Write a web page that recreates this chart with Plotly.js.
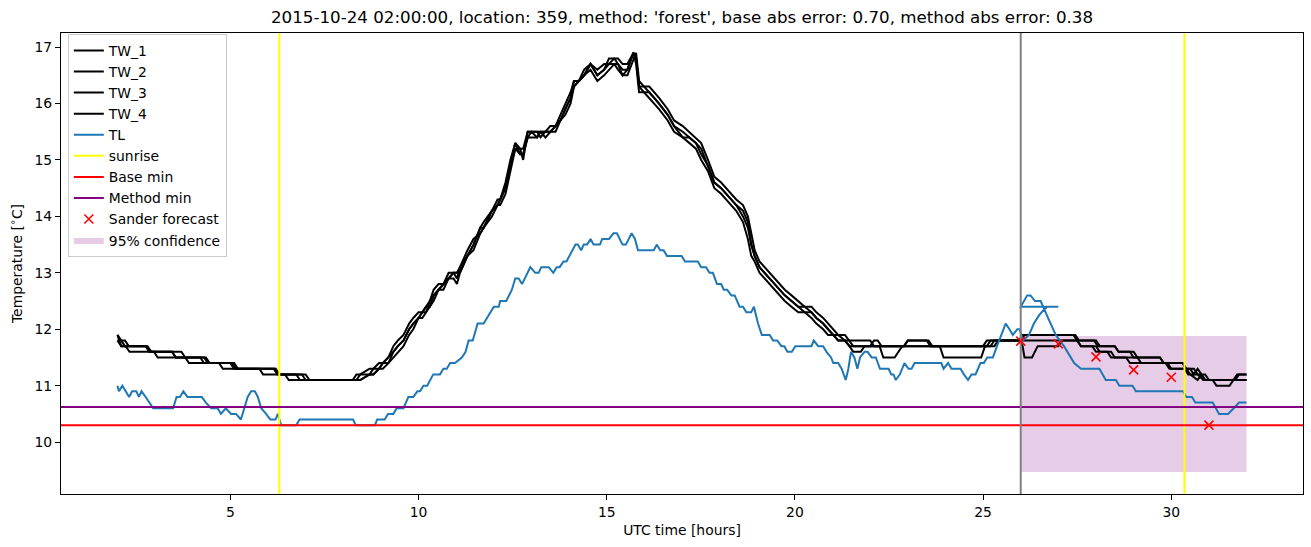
<!DOCTYPE html>
<html><head><meta charset="utf-8">
<script src="https://cdn.plot.ly/plotly-3.0.1.min.js"></script>
<style>html,body{margin:0;padding:0;background:#fff}</style>
</head><body><div id="chart" style="width:1311px;height:547px"></div>
<script>
// ---------------- data ----------------
const TITLE = "2015-10-24 02:00:00, location: 359, method: 'forest', base abs error: 0.70, method abs error: 0.38";
const X_RANGE = [0.5, 33.5];
const Y_RANGE = [9.08, 17.25];
const X_TICKS = [5, 10, 15, 20, 25, 30];
const Y_TICKS = [10, 11, 12, 13, 14, 15, 16, 17];

const TL_time = [
 2.0, 2.04, 2.13, 2.22, 2.31, 2.39, 2.5, 2.57, 2.64, 2.75,
 2.85, 2.95, 3.48, 3.57, 3.66, 3.75, 3.86, 4.24, 4.35, 4.49,
 4.66, 4.75, 4.88, 5.02, 5.15, 5.28, 5.37, 5.46, 5.55, 5.65,
 5.73, 5.82, 5.95, 6.06, 6.2, 6.26, 6.35, 6.75, 6.84, 8.26,
 8.33, 8.84, 8.9, 9.1, 9.19, 9.33, 9.42, 9.6, 9.73, 9.86,
 9.97, 10.04, 10.13, 10.23, 10.39, 10.57, 10.66, 10.75, 10.84, 10.97,
 11.15, 11.25, 11.33, 11.44, 11.57, 11.73, 12.0, 12.13, 12.17, 12.33,
 12.48, 12.57, 12.66, 12.75, 12.97, 13.1, 13.19, 13.26, 13.46, 13.58,
 13.67, 13.75, 13.85, 13.93, 14.17, 14.23, 14.32, 14.39, 14.48, 14.57,
 14.65, 14.82, 14.88, 15.06, 15.18, 15.27, 15.42, 15.51, 15.66, 15.75,
 15.83, 16.25, 16.33, 16.42, 16.51, 16.6, 16.99, 17.08, 17.42, 17.51,
 17.64, 17.73, 17.82, 17.93, 18.04, 18.11, 18.2, 18.31, 18.4, 18.53,
 18.62, 18.71, 18.84, 18.91, 19.02, 19.12, 19.33, 19.42, 19.53, 19.64,
 19.72, 19.8, 19.92, 20.01, 20.44, 20.5, 20.62, 20.75, 20.84, 20.96,
 21.02, 21.15, 21.24, 21.35, 21.42, 21.49, 21.58, 21.66, 21.73, 21.85,
 21.93, 22.04, 22.15, 22.26, 22.49, 22.56, 22.62, 22.68, 22.79, 22.91,
 23.02, 23.1, 23.18, 23.89, 23.95, 24.07, 24.16, 24.4, 24.49, 24.6,
 24.69, 24.8, 24.93, 25.02, 25.11, 25.26, 25.37, 25.49, 25.6, 25.7,
 25.79, 25.91, 25.97, 26.06, 26.22, 26.35, 26.49, 26.62, 26.71, 27.0,
 26.0, 26.17, 26.26, 26.38, 26.53, 26.66, 26.79, 26.93, 27.15, 27.42,
 27.6, 28.09, 28.26, 28.53, 28.62, 28.97, 29.06, 30.31, 30.4, 30.55,
 30.64, 31.1, 31.27, 31.51, 31.66, 31.8, 32.0
];
const TL_values = [
 11.0, 10.9, 11.0, 10.9, 10.8, 10.9, 10.9, 10.8, 10.9, 10.8,
 10.7, 10.6, 10.6, 10.8, 10.8, 10.9, 10.8, 10.8, 10.7, 10.6,
 10.6, 10.5, 10.6, 10.5, 10.5, 10.4, 10.6, 10.8, 10.9, 10.9,
 10.8, 10.6, 10.5, 10.4, 10.4, 10.5, 10.3, 10.3, 10.4, 10.4,
 10.3, 10.3, 10.4, 10.4, 10.5, 10.5, 10.6, 10.6, 10.8, 10.8,
 10.9, 10.9, 11.0, 11.0, 11.2, 11.2, 11.3, 11.3, 11.4, 11.4,
 11.5, 11.6, 11.8, 11.8, 12.1, 12.1, 12.4, 12.4, 12.5, 12.5,
 12.7, 12.9, 12.9, 12.8, 13.1, 13.0, 13.0, 13.1, 13.1, 13.0,
 13.1, 13.1, 13.2, 13.2, 13.5, 13.5, 13.4, 13.5, 13.5, 13.6,
 13.5, 13.5, 13.6, 13.6, 13.7, 13.7, 13.5, 13.5, 13.7, 13.6,
 13.4, 13.4, 13.5, 13.4, 13.4, 13.3, 13.3, 13.2, 13.2, 13.1,
 13.1, 13.0, 13.0, 12.8, 12.8, 12.7, 12.7, 12.6, 12.6, 12.4,
 12.4, 12.3, 12.3, 12.4, 12.1, 11.9, 11.9, 11.8, 11.8, 11.7,
 11.7, 11.6, 11.6, 11.7, 11.7, 11.8, 11.7, 11.7, 11.6, 11.5,
 11.4, 11.4, 11.3, 11.1, 11.3, 11.6, 11.5, 11.3, 11.5, 11.6,
 11.6, 11.5, 11.5, 11.3, 11.3, 11.2, 11.2, 11.1, 11.2, 11.4,
 11.3, 11.3, 11.4, 11.4, 11.3, 11.4, 11.3, 11.3, 11.2, 11.1,
 11.2, 11.2, 11.4, 11.4, 11.5, 11.5, 11.7, 11.9, 12.1, 12.0,
 11.9, 12.0, 12.0, 11.8, 11.9, 12.1, 12.25, 12.35, 12.4, 12.4,
 12.4, 12.6, 12.6, 12.5, 12.5, 12.3, 12.1, 11.9, 11.7, 11.4,
 11.3, 11.3, 11.1, 11.1, 11.0, 11.0, 10.9, 10.9, 10.8, 10.8,
 10.7, 10.7, 10.5, 10.5, 10.6, 10.7, 10.7
];

// TW series: early flat part, shared-time middle part, late flat part
const TW1_time_early = [2.0, 2.1, 2.2, 2.8, 2.9, 3.45, 3.55, 4.3, 4.4, 5.05, 5.15, 6.15, 6.25, 6.75, 6.85, 8.25];
const TW1_val_early  = [11.9, 11.8, 11.7, 11.7, 11.6, 11.6, 11.5, 11.5, 11.4, 11.4, 11.3, 11.3, 11.2, 11.2, 11.1, 11.1];
const TW2_time_early = [2.0, 2.1, 2.22, 2.32, 2.9, 2.97, 3.07, 3.8, 3.9, 4.7, 4.8, 5.77, 5.87, 6.45, 6.55, 8.25];
const TW2_val_early  = [11.9, 11.7, 11.7, 11.6, 11.6, 11.6, 11.5, 11.5, 11.4, 11.4, 11.3, 11.3, 11.2, 11.2, 11.1, 11.1];
const TW3_time_early = [2.0, 2.1, 2.75, 2.85, 3.45, 3.55, 4.2, 4.3, 5.0, 5.1, 6.2, 6.3, 6.9, 7.0, 8.25];
const TW3_val_early  = [11.8, 11.7, 11.7, 11.6, 11.6, 11.5, 11.5, 11.4, 11.4, 11.3, 11.3, 11.2, 11.2, 11.1, 11.1];
const TW4_time_early = [2.0, 2.2, 2.3, 2.75, 2.85, 3.7, 3.8, 4.35, 4.45, 5.1, 5.2, 6.2, 6.3, 7.0, 7.1, 8.25];
const TW4_val_early  = [11.8, 11.8, 11.7, 11.7, 11.6, 11.6, 11.5, 11.5, 11.4, 11.4, 11.3, 11.3, 11.2, 11.2, 11.1, 11.1];

const TW_time_mid = [
 8.35, 8.45, 8.7, 8.8, 8.95, 9.05, 9.2, 9.33, 9.45, 9.6,
 9.75, 9.86, 10.0, 10.1, 10.2, 10.3, 10.4, 10.53, 10.66, 10.8,
 10.93, 11.02, 11.1, 11.3, 11.46, 11.64, 11.73, 11.95, 12.1, 12.17,
 12.31, 12.44, 12.57, 12.7, 12.78, 12.9, 13.0, 13.15, 13.24, 13.37,
 13.5, 13.64, 13.77, 13.9, 14.04, 14.13, 14.26, 14.4, 14.57, 14.75,
 14.93, 15.06, 15.2, 15.3, 15.42, 15.55, 15.71, 15.78, 15.86, 15.99,
 16.13, 16.26, 16.39, 16.62, 16.79, 17.02, 17.19, 17.37, 17.51, 17.69,
 17.86, 18.04, 18.17, 18.31, 18.44, 18.62, 18.75, 18.84, 18.93, 19.06,
 19.19, 19.33, 19.46, 19.6, 19.73, 19.91, 20.09, 20.26, 20.44, 20.57,
 20.75, 20.88, 21.02, 21.15, 21.33
];
const TW1_val_mid = [
 11.1, 11.2, 11.2, 11.3, 11.3, 11.4, 11.5, 11.6, 11.7, 11.8,
 12.0, 12.1, 12.2, 12.3, 12.3, 12.5, 12.6, 12.7, 12.8, 13.0,
 13.0, 12.9, 13.1, 13.3, 13.5, 13.8, 13.9, 14.1, 14.2, 14.3,
 14.5, 14.9, 15.3, 15.1, 15.1, 15.4, 15.5, 15.4, 15.5, 15.5,
 15.5, 15.6, 15.7, 15.9, 16.1, 16.3, 16.4, 16.5, 16.7, 16.5,
 16.6, 16.7, 16.7, 16.7, 16.5, 16.6, 16.9, 16.8, 16.3, 16.3,
 16.2, 16.1, 16.0, 15.8, 15.6, 15.5, 15.4, 15.3, 15.2, 14.9,
 14.6, 14.5, 14.4, 14.3, 14.2, 14.1, 13.9, 13.5, 13.3, 13.1,
 13.0, 12.9, 12.8, 12.7, 12.6, 12.5, 12.4, 12.4, 12.3, 12.2,
 12.1, 12.0, 11.9, 11.9, 11.8
];
const TW2_val_mid = [
 11.2, 11.2, 11.3, 11.3, 11.4, 11.4, 11.5, 11.7, 11.8, 11.9,
 12.1, 12.2, 12.3, 12.3, 12.4, 12.5, 12.7, 12.8, 12.8, 12.9,
 13.0, 13.0, 13.1, 13.4, 13.6, 13.7, 13.8, 14.1, 14.3, 14.3,
 14.6, 15.0, 15.3, 15.2, 15.0, 15.5, 15.5, 15.5, 15.5, 15.4,
 15.5, 15.6, 15.8, 16.0, 16.2, 16.4, 16.4, 16.6, 16.7, 16.6,
 16.7, 16.7, 16.8, 16.8, 16.7, 16.7, 16.9, 16.7, 16.2, 16.2,
 16.1, 16.0, 15.9, 15.7, 15.5, 15.4, 15.3, 15.2, 15.0, 14.8,
 14.5, 14.4, 14.3, 14.2, 14.1, 13.9, 13.6, 13.3, 13.2, 13.0,
 12.9, 12.8, 12.7, 12.6, 12.5, 12.4, 12.3, 12.3, 12.2, 12.1,
 12.0, 11.9, 11.9, 11.8, 11.8
];
const TW3_val_mid = [
 11.1, 11.1, 11.2, 11.2, 11.3, 11.3, 11.4, 11.5, 11.6, 11.7,
 11.9, 12.0, 12.2, 12.2, 12.3, 12.4, 12.5, 12.7, 12.7, 12.9,
 12.9, 12.8, 13.0, 13.3, 13.4, 13.7, 13.8, 14.0, 14.2, 14.2,
 14.4, 14.8, 15.2, 15.1, 15.1, 15.4, 15.4, 15.4, 15.5, 15.5,
 15.5, 15.5, 15.7, 15.8, 16.0, 16.3, 16.4, 16.5, 16.6, 16.4,
 16.5, 16.6, 16.7, 16.6, 16.5, 16.5, 16.8, 16.9, 16.4, 16.3,
 16.3, 16.2, 16.1, 15.9, 15.7, 15.6, 15.5, 15.4, 15.3, 15.0,
 14.7, 14.6, 14.5, 14.4, 14.3, 14.2, 14.0, 13.7, 13.4, 13.2,
 13.1, 13.0, 12.9, 12.8, 12.7, 12.6, 12.5, 12.4, 12.4, 12.3,
 12.2, 12.1, 12.0, 11.9, 11.9
];
const TW4_val_mid = [
 11.1, 11.1, 11.2, 11.2, 11.3, 11.4, 11.4, 11.6, 11.7, 11.8,
 12.0, 12.1, 12.2, 12.3, 12.4, 12.4, 12.6, 12.7, 12.8, 12.9,
 13.0, 13.0, 13.0, 13.3, 13.5, 13.8, 13.8, 14.1, 14.2, 14.3,
 14.5, 14.9, 15.2, 15.2, 15.2, 15.5, 15.5, 15.5, 15.4, 15.5,
 15.6, 15.6, 15.7, 15.9, 16.1, 16.4, 16.4, 16.5, 16.7, 16.5,
 16.6, 16.8, 16.8, 16.7, 16.6, 16.6, 16.9, 16.8, 16.3, 16.2,
 16.2, 16.1, 16.0, 15.8, 15.6, 15.4, 15.4, 15.3, 15.1, 14.9,
 14.6, 14.5, 14.4, 14.3, 14.2, 14.0, 13.8, 13.5, 13.3, 13.1,
 13.0, 12.9, 12.8, 12.7, 12.6, 12.5, 12.4, 12.3, 12.3, 12.2,
 12.1, 12.0, 11.9, 11.8, 11.8
];

const TW1_time_late = [21.45, 22.0, 22.1, 22.9, 23.0, 23.5, 23.6, 25.1, 25.2, 26.0, 26.1, 27.45, 27.55, 27.95, 28.05, 28.5, 28.6, 28.9, 29.0, 29.7, 29.8, 30.3, 30.4, 30.5, 30.6, 30.7, 30.8, 30.9, 31.7, 31.8, 32.0];
const TW1_val_late  = [11.8, 11.8, 11.7, 11.7, 11.8, 11.8, 11.7, 11.7, 11.8, 11.8, 11.9, 11.9, 11.8, 11.8, 11.7, 11.7, 11.6, 11.6, 11.5, 11.5, 11.4, 11.4, 11.3, 11.3, 11.2, 11.3, 11.2, 11.1, 11.1, 11.2, 11.2];
const TW2_time_late = [21.45, 21.55, 21.75, 21.85, 22.0, 22.1, 22.2, 22.3, 25.0, 25.1, 25.95, 26.05, 26.1, 26.3, 26.45, 27.0, 27.1, 27.5, 27.6, 27.9, 28.0, 28.4, 28.5, 28.8, 28.9, 29.85, 29.95, 30.4, 30.5, 30.7, 30.8, 30.9, 31.1, 31.2, 31.55, 31.65, 32.0];
const TW2_val_late  = [11.7, 11.6, 11.6, 11.7, 11.7, 11.8, 11.8, 11.7, 11.7, 11.8, 11.8, 11.7, 11.5, 11.5, 11.7, 11.7, 11.8, 11.8, 11.7, 11.7, 11.6, 11.6, 11.5, 11.5, 11.4, 11.4, 11.3, 11.3, 11.2, 11.1, 11.2, 11.1, 11.1, 11.0, 11.0, 11.1, 11.1];
const TW3_time_late = [21.45, 21.55, 22.25, 22.35, 22.65, 22.75, 22.85, 23.85, 23.95, 24.95, 25.05, 25.3, 25.4, 26.0, 27.5, 27.6, 28.0, 28.1, 28.3, 28.4, 29.1, 29.2, 29.9, 30.0, 30.35, 30.45, 30.9, 31.0, 32.0];
const TW3_val_late  = [11.8, 11.7, 11.7, 11.5, 11.5, 11.6, 11.7, 11.7, 11.5, 11.5, 11.7, 11.7, 11.8, 11.8, 11.8, 11.7, 11.7, 11.6, 11.6, 11.5, 11.5, 11.4, 11.4, 11.3, 11.3, 11.2, 11.2, 11.1, 11.1];
const TW4_time_late = [21.45, 22.9, 23.0, 23.55, 23.65, 25.2, 25.3, 25.95, 26.05, 27.4, 27.5, 28.0, 28.1, 28.5, 28.6, 29.0, 29.1, 29.7, 29.8, 30.3, 30.4, 30.6, 30.7, 30.85, 31.65, 31.75, 32.0];
const TW4_val_late  = [11.7, 11.7, 11.8, 11.8, 11.7, 11.7, 11.8, 11.8, 11.9, 11.9, 11.8, 11.8, 11.7, 11.7, 11.6, 11.6, 11.5, 11.5, 11.4, 11.4, 11.3, 11.3, 11.2, 11.1, 11.1, 11.2, 11.2];

const SUNRISE = [6.3, 30.35];
const FORECAST_START = 26.0;
const BASE_MIN = 10.3;
const METHOD_MIN = 10.62;
const SANDER_time = [26, 27, 28, 29, 30, 31];
const SANDER_values = [11.79, 11.74, 11.51, 11.28, 11.15, 10.30];
const CONF_time = [26, 32];
const CONF_low = [9.47, 9.47];
const CONF_high = [11.88, 11.88];

// ---------------- traces ----------------
const FONT = 'DejaVu Sans, sans-serif';
const LW = 2;
const tw = [
  ['TW_1', TW1_time_early, TW1_val_early, TW1_val_mid, TW1_time_late, TW1_val_late],
  ['TW_2', TW2_time_early, TW2_val_early, TW2_val_mid, TW2_time_late, TW2_val_late],
  ['TW_3', TW3_time_early, TW3_val_early, TW3_val_mid, TW3_time_late, TW3_val_late],
  ['TW_4', TW4_time_early, TW4_val_early, TW4_val_mid, TW4_time_late, TW4_val_late]
];
const traces = [];
// confidence band (drawn underneath)
traces.push({
  x: [CONF_time[0], CONF_time[1], CONF_time[1], CONF_time[0], CONF_time[0]],
  y: [CONF_low[0], CONF_low[1], CONF_high[1], CONF_high[0], CONF_low[0]],
  mode: 'lines', fill: 'toself', fillcolor: 'rgba(128,0,128,0.2)',
  line: {width: 0, color: 'rgba(128,0,128,0)'}, name: '95% confidence', legendrank: 10, hoverinfo: 'skip'
});
tw.forEach((s, i) => {
  traces.push({
    x: s[1].concat(TW_time_mid, s[4]),
    y: s[2].concat(s[3], s[5]),
    mode: 'lines', line: {color: '#000000', width: LW}, name: s[0], legendrank: i + 1
  });
});
traces.push({x: TL_time, y: TL_values, mode: 'lines', line: {color: '#1f77b4', width: LW}, name: 'TL', legendrank: 5});
const sx = [], sy = [];
SUNRISE.forEach(t => { sx.push(t, t, null); sy.push(Y_RANGE[0], Y_RANGE[1], null); });
traces.push({x: sx, y: sy, mode: 'lines', line: {color: '#ffff00', width: LW}, name: 'sunrise', legendrank: 6});
traces.push({x: X_RANGE, y: [BASE_MIN, BASE_MIN], mode: 'lines', line: {color: '#ff0000', width: LW}, name: 'Base min', legendrank: 7});
traces.push({x: X_RANGE, y: [METHOD_MIN, METHOD_MIN], mode: 'lines', line: {color: '#800080', width: LW}, name: 'Method min', legendrank: 8});
traces.push({x: [FORECAST_START, FORECAST_START], y: Y_RANGE, mode: 'lines', line: {color: '#808080', width: LW}, name: 'forecast start', showlegend: false});
traces.push({x: SANDER_time, y: SANDER_values, mode: 'markers', name: 'Sander forecast', legendrank: 9,
  marker: {symbol: 'x-thin', size: 9, color: '#ff0000', line: {color: '#ff0000', width: 1.6}}});

const axisCommon = {
  showline: true, mirror: true, linecolor: '#000', linewidth: 1,
  ticks: 'outside', ticklen: 5, tickwidth: 1, tickcolor: '#000',
  showgrid: false, zeroline: false,
  tickfont: {family: FONT, size: 13.9, color: '#000'}
};
const layout = {
  width: 1311, height: 547,
  margin: {l: 61, r: 8, t: 33, b: 53},
  paper_bgcolor: '#fff', plot_bgcolor: '#fff',
  font: {family: FONT, color: '#000'},
  title: {text: TITLE, font: {family: FONT, size: 16.7, color: '#000'}, x: 0.5, xref: 'paper', y: 1 - 17/547, yref: 'container', yanchor: 'middle'},
  xaxis: Object.assign({}, axisCommon, {range: X_RANGE, tickvals: X_TICKS,
    title: {text: 'UTC time [hours]', font: {family: FONT, size: 13.9}, standoff: 6}}),
  yaxis: Object.assign({}, axisCommon, {range: Y_RANGE, tickvals: Y_TICKS,
    title: {text: 'Temperature [<sup>∘</sup>C]', font: {family: FONT, size: 13.9}, standoff: 8}}),
  showlegend: true,
  legend: {x: 0.0055, y: 0.998, xanchor: 'left', yanchor: 'top', bgcolor: 'rgba(255,255,255,0.8)',
    bordercolor: '#cccccc', borderwidth: 1, font: {family: FONT, size: 13.9, color: '#000'}, tracegroupgap: 0}
};
Plotly.newPlot('chart', traces, layout, {displayModeBar: false, staticPlot: true});
</script></body></html>
